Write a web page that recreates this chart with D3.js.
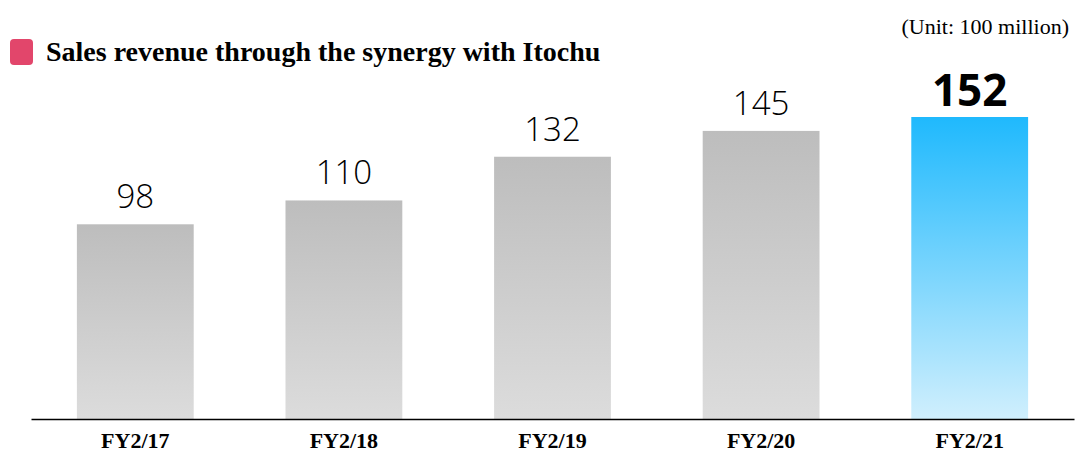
<!DOCTYPE html>
<html><head><meta charset="utf-8">
<script src="https://cdn.jsdelivr.net/npm/d3@7"></script>
<style>body{margin:0;background:#fff;}svg{display:block;}</style>
</head><body>
<svg id="chart" width="1086" height="463"></svg>
<script>
const categories = ["FY2/17", "FY2/18", "FY2/19", "FY2/20", "FY2/21"];
const values = [98, 110, 132, 145, 152];
const highlight = [false, false, false, false, true];
const title = "Sales revenue through the synergy with Itochu";
const unitLabel = "(Unit: 100 million)";

const svg = d3.select("#chart");
const defs = svg.append("defs");
const gGray = defs.append("linearGradient").attr("id", "gGray").attr("x1", 0).attr("y1", 0).attr("x2", 0).attr("y2", 1);
gGray.append("stop").attr("offset", "0%").attr("stop-color", "#bdbdbd");
gGray.append("stop").attr("offset", "100%").attr("stop-color", "#dcdcdc");
const gBlue = defs.append("linearGradient").attr("id", "gBlue").attr("x1", 0).attr("y1", 0).attr("x2", 0).attr("y2", 1);
gBlue.append("stop").attr("offset", "0%").attr("stop-color", "#1fb9fd");
gBlue.append("stop").attr("offset", "100%").attr("stop-color", "#d0effd");

const x = d3.scaleBand().domain(categories).range([31, 1074]).paddingInner(0.44).paddingOuter(0.22);
const y = d3.scaleLinear().domain([0, 152]).range([419, 117]);

// bars
svg.selectAll("rect.bar").data(values).join("rect")
  .attr("class", "bar")
  .attr("x", (d, i) => x(categories[i]))
  .attr("width", x.bandwidth())
  .attr("y", d => y(d))
  .attr("height", d => y(0) - y(d))
  .attr("fill", (d, i) => highlight[i] ? "url(#gBlue)" : "url(#gGray)");

// value labels
svg.selectAll("text.val").data(values).join("text")
  .attr("class", "val")
  .attr("x", (d, i) => x(categories[i]) + x.bandwidth() / 2)
  .attr("y", (d, i) => y(d) - (highlight[i] ? 11 : 16))
  .attr("text-anchor", "middle")
  .attr("font-family", "'Open Sans', 'Noto Sans', sans-serif")
  .attr("font-weight", (d, i) => highlight[i] ? 700 : 300)
  .attr("font-size", (d, i) => highlight[i] ? 44 : 33)
  .attr("fill", "#000")
  .text(d => d);

// x axis
const xAxis = d3.axisBottom(x).tickSize(0).tickPadding(0);
const ax = svg.append("g").attr("transform", "translate(0,419)").call(xAxis);
ax.select(".domain").attr("stroke", "#000").attr("stroke-width", 1.5);
ax.selectAll(".tick text")
  .attr("dy", 0).attr("y", 29)
  .attr("font-family", "'Liberation Serif', 'Times New Roman', serif")
  .attr("font-weight", 700).attr("font-size", 22).attr("fill", "#000");

// legend / title
svg.append("rect").attr("x", 10).attr("y", 39).attr("width", 23).attr("height", 26)
  .attr("rx", 4).attr("fill", "#e2466b");
svg.append("text").attr("x", 46).attr("y", 61)
  .attr("font-family", "'Liberation Serif', 'Times New Roman', serif")
  .attr("font-weight", 700).attr("font-size", 28).attr("fill", "#000")
  .text(title);

svg.append("text").attr("x", 1069).attr("y", 34).attr("text-anchor", "end")
  .attr("font-family", "'Liberation Serif', 'Times New Roman', serif")
  .attr("font-size", 22).attr("fill", "#000")
  .text(unitLabel);
</script>
</body></html>
